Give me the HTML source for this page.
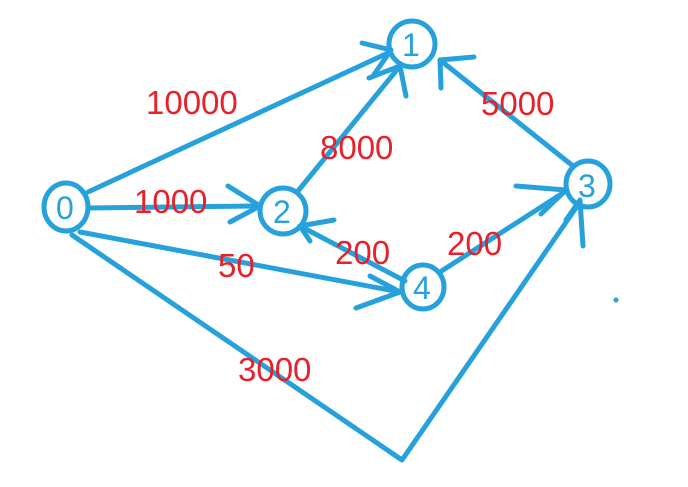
<!DOCTYPE html>
<html><head><meta charset="utf-8"><style>
html,body{margin:0;padding:0;background:#fff;}
svg{display:block;}
.e{fill:none;stroke:#27a1dc;stroke-width:5;stroke-linecap:round;stroke-linejoin:round;}
.n{fill:none;stroke:#27a1dc;stroke-width:5;}
.nl{font-family:"Liberation Sans",sans-serif;font-size:32px;fill:#27a1dc;}
.w{font-family:"Liberation Sans",sans-serif;font-size:33px;fill:#e8202a;}
</style></head><body>
<svg width="688" height="487" viewBox="0 0 688 487">
<g>
<path class="e" d="M88,192 L390,52"/>
<path class="e" d="M362,43 L391,50 L373,76"/>
<path class="e" d="M88,208 L259,206"/>
<path class="e" d="M228,186 L260,206 L230,222"/>
<path class="e" d="M80,232 L400,292"/>
<path class="e" d="M370,276 L400,292 L356,308"/>
<path class="e" d="M72,235 L402,460 L580,202"/>
<path class="e" d="M566,220 L580,200 L583,246"/>
<path class="e" d="M298,191 L400,66"/>
<path class="e" d="M369,78 L400,66 L406,96"/>
<path class="e" d="M405,281 L300,226"/>
<path class="e" d="M334,220 L300,226 L310,241"/>
<path class="e" d="M440,272 L566,191"/>
<path class="e" d="M516,186 L566,190 L541,214"/>
<path class="e" d="M573,166 L440,60"/>
<path class="e" d="M474,57 L440,60 L441,88"/>
</g>
<g>
<ellipse class="n" cx="66" cy="207" rx="22" ry="24"/>
<text class="nl" x="56" y="219">0</text>
<ellipse class="n" cx="412" cy="44" rx="23" ry="23"/>
<text class="nl" x="402" y="56">1</text>
<ellipse class="n" cx="283" cy="211" rx="23" ry="23"/>
<text class="nl" x="273" y="223">2</text>
<ellipse class="n" cx="588" cy="184" rx="22" ry="23"/>
<text class="nl" x="578" y="197">3</text>
<ellipse class="n" cx="423" cy="287" rx="21" ry="22"/>
<text class="nl" x="413" y="299">4</text>
<circle cx="616" cy="300" r="2.5" fill="#27a1dc"/>
</g>
<g>
<text class="w" x="146" y="114">10000</text>
<text class="w" x="134" y="213">1000</text>
<text class="w" x="320" y="159">8000</text>
<text class="w" x="481" y="115">5000</text>
<text class="w" x="335" y="264">200</text>
<text class="w" x="447" y="255">200</text>
<text class="w" x="218" y="277">50</text>
<text class="w" x="238" y="381">3000</text>
</g>
</svg>
</body></html>
